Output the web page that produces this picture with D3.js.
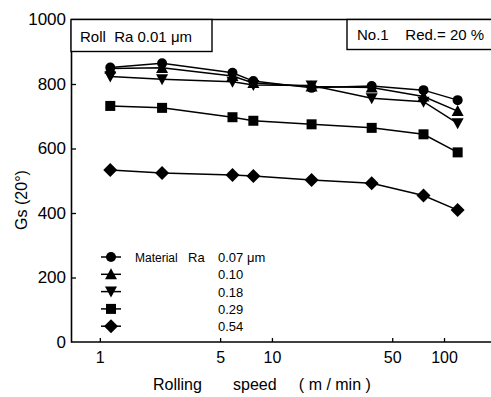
<!DOCTYPE html>
<html>
<head>
<meta charset="utf-8">
<script src="https://cdn.jsdelivr.net/npm/d3@7"></script>
<style>
  body { margin: 0; background: #fff; }
  svg text { font-family: "Liberation Sans", "DejaVu Sans", sans-serif; fill: #000; }
</style>
</head>
<body>
<div class="chart"></div>
<script>
// ---- data
var speeds = [1.15, 2.3, 5.9, 7.8, 17, 38, 76, 120];
var ra007 = [851, 864, 835, 809, 788, 794, 781, 750];
var ra010 = [848, 850, 825, 803, 792, 789, 761, 716];
var ra018 = [823, 815, 807, 797, 795, 756, 745, 678];
var ra029 = [732, 726, 697, 686, 675, 664, 644, 588];
var ra054 = [533, 524, 518, 515, 502, 492, 454, 409];
var legendLabels = ["0.07 \u03bcm", "0.10", "0.18", "0.29", "0.54"];
var xTicks = [1, 5, 10, 50, 100];
var yTicks = [0, 200, 400, 600, 800, 1000];

var series = [
  {name: legendLabels[0], values: ra007, shape: "circle"},
  {name: legendLabels[1], values: ra010, shape: "up"},
  {name: legendLabels[2], values: ra018, shape: "down"},
  {name: legendLabels[3], values: ra029, shape: "square"},
  {name: legendLabels[4], values: ra054, shape: "diamond"}
];

var W = 491, H = 397;
var mLeft = 71, mTop = 19.5, mRight = 491, mBottom = 342;

var svg = d3.select(".chart").append("svg")
    .attr("width", W).attr("height", H);

// ---- scales
var x = d3.scaleLog().domain([0.68, 185]).range([mLeft, 490]);
var y = d3.scaleLinear().domain([0, 1000]).range([mBottom, mTop]);

// ---- axes (ticks point inward)
var gx = svg.append("g")
    .attr("transform", "translate(0," + mBottom + ")")
    .call(d3.axisBottom(x).tickValues(xTicks).tickSize(-4).tickSizeOuter(0).tickFormat(d3.format("d")));
gx.select(".domain").attr("stroke-width", 1.6).attr("d", "M" + mLeft + ",0H" + mRight);
gx.selectAll(".tick line").attr("stroke-width", 1.3);
gx.selectAll("text").attr("y", 10).attr("font-size", 16);

var gy = svg.append("g")
    .attr("transform", "translate(" + mLeft + ",0)")
    .call(d3.axisLeft(y).tickValues(yTicks).tickSize(-5).tickSizeOuter(0).tickFormat(d3.format("d")));
gy.select(".domain").attr("stroke-width", 1.6);
gy.selectAll(".tick line").attr("stroke-width", 1.3);
gy.selectAll("text").attr("x", -5).attr("font-size", 17);
gy.selectAll(".tick").filter(function(d) { return d === 1000 || d === 0; }).select("line").remove();

// top frame line
svg.append("line")
    .attr("x1", mLeft).attr("x2", mRight).attr("y1", mTop).attr("y2", mTop)
    .attr("stroke", "#000").attr("stroke-width", 1.6);

// ---- axis titles
svg.append("text")
    .attr("x", 153).attr("y", 390).attr("font-size", 16)
    .attr("xml:space", "preserve")
    .text("Rolling       speed     ( m / min )");
svg.append("text")
    .attr("transform", "translate(27,200) rotate(-90)")
    .attr("text-anchor", "middle").attr("font-size", 16)
    .text("Gs  (20\u00b0)");

// ---- info boxes
svg.append("rect").attr("x", mLeft).attr("y", mTop).attr("width", 141).attr("height", 32)
    .attr("fill", "#fff").attr("stroke", "#000").attr("stroke-width", 1.4);
svg.append("text").attr("x", 80).attr("y", 42).attr("font-size", 15)
    .attr("xml:space", "preserve").text("Roll  Ra 0.01 \u03bcm");

svg.append("rect").attr("x", 347).attr("y", mTop).attr("width", 150).attr("height", 30)
    .attr("fill", "#fff").attr("stroke", "#000").attr("stroke-width", 1.4);
svg.append("text").attr("x", 357).attr("y", 40).attr("font-size", 15)
    .attr("xml:space", "preserve").text("No.1    Red.= 20 %");

// ---- markers
function marker(g, shape) {
  if (shape === "circle") {
    g.append("circle").attr("r", 5);
  } else if (shape === "square") {
    g.append("rect").attr("x", -5).attr("y", -5).attr("width", 10).attr("height", 10);
  } else if (shape === "up") {
    g.append("path").attr("d", "M0,-6L6,5L-6,5Z");
  } else if (shape === "down") {
    g.append("path").attr("d", "M0,6L6,-5L-6,-5Z");
  } else if (shape === "diamond") {
    g.append("path").attr("d", "M0,-7L7,0L0,7L-7,0Z");
  }
}

var line = d3.line()
    .x(function(d) { return x(d[0]); })
    .y(function(d) { return y(d[1]); });

series.forEach(function(s) {
  var pts = speeds.map(function(v, i) { return [v, s.values[i]]; });
  svg.append("path")
      .datum(pts)
      .attr("d", line)
      .attr("fill", "none").attr("stroke", "#000").attr("stroke-width", 1.5);
  svg.selectAll(null)
      .data(pts)
      .enter().append("g")
      .attr("fill", "#000")
      .attr("transform", function(d) { return "translate(" + x(d[0]) + "," + y(d[1]) + ")"; })
      .each(function() { marker(d3.select(this), s.shape); });
});

// ---- legend
var legend = svg.append("g");
series.forEach(function(s, i) {
  var ly = 257 + i * 17.3;
  legend.append("line").attr("x1", 101).attr("x2", 121).attr("y1", ly).attr("y2", ly)
      .attr("stroke", "#000").attr("stroke-width", 1.5);
  var m = legend.append("g").attr("fill", "#000").attr("transform", "translate(111," + ly + ")");
  marker(m, s.shape);
  legend.append("text").attr("x", 218).attr("y", ly + 5).attr("font-size", 13).text(s.name);
});
legend.append("text").attr("x", 135).attr("y", 262).attr("font-size", 12).text("Material");
legend.append("text").attr("x", 188).attr("y", 262).attr("font-size", 13).text("Ra");
</script>
</body>
</html>
